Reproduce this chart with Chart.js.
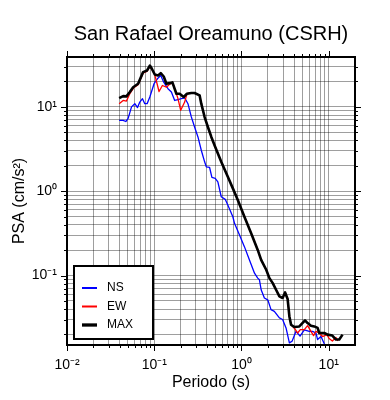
<!DOCTYPE html>
<html>
<head>
<meta charset="utf-8">
<script src="https://cdn.jsdelivr.net/npm/chart.js@4/dist/chart.umd.min.js"></script>
<style>
  html, body { margin: 0; padding: 0; background: #fff; }
</style>
</head>
<body>
<canvas id="psaChart" width="390" height="400"></canvas>
<script>
// periods (s) and PSA (cm/s2)
var nsPeriods = [0.0396, 0.044, 0.0472, 0.0502, 0.0549, 0.0599, 0.0643, 0.0683, 0.0733, 0.0779, 0.0828, 0.089, 0.0995, 0.1088, 0.1187, 0.1284, 0.1437, 0.1572, 0.1715, 0.187, 0.2046, 0.2233, 0.2434, 0.266, 0.29, 0.317, 0.346, 0.378, 0.395, 0.431, 0.458, 0.5, 0.536, 0.586, 0.651, 0.697, 0.796, 0.832, 0.949, 1.08, 1.234, 1.41, 1.535, 1.606, 1.68, 1.83, 2.0, 2.18, 2.38, 2.72, 2.96, 3.24, 3.54, 3.80, 4.22, 4.69, 5.25, 5.98, 6.53, 7.14, 7.45, 8.15, 8.89, 9.5];
var nsPSA = [6.9, 6.9, 6.7, 7.3, 10.0, 10.9, 9.8, 11.4, 12.5, 10.9, 10.9, 13.1, 18.8, 21.5, 23.6, 19.6, 16.4, 15.0, 11.9, 12.2, 12.5, 12.8, 10.9, 7.6, 5.77, 4.40, 3.06, 2.23, 1.94, 1.91, 1.46, 1.42, 1.29, 0.859, 0.80, 0.685, 0.498, 0.416, 0.303, 0.220, 0.153, 0.1066, 0.0931, 0.089, 0.0678, 0.0541, 0.0515, 0.0394, 0.0375, 0.0314, 0.0301, 0.0239, 0.0159, 0.0166, 0.0218, 0.0191, 0.0226, 0.0218, 0.0218, 0.0208, 0.0174, 0.0189, 0.0155, 0.0135];

var ewPeriods = [0.0396, 0.044, 0.048, 0.0525, 0.0583, 0.0653, 0.0745, 0.0828, 0.089, 0.0936, 0.1014, 0.1135, 0.124, 0.1379, 0.1476, 0.1615, 0.1794, 0.187, 0.201, 0.2233, 0.237, 0.266, 0.29, 0.331, 0.346, 0.378, 0.412, 0.451, 0.5, 0.586, 0.697, 0.796, 0.907, 1.08, 1.29, 1.535, 1.68, 1.92, 2.09, 2.28, 2.49, 2.72, 2.96, 3.16, 3.38, 3.54, 3.70, 4.11, 4.40, 4.72, 5.25, 5.72, 6.26, 6.70, 7.14, 7.79, 8.49, 9.53, 10.1, 11.0, 12.1, 12.7];
var ewPSA = [10.9, 11.9, 11.7, 14.3, 16.9, 18.3, 25.0, 26.5, 30.0, 28.0, 24.0, 15.2, 17.9, 17.1, 18.3, 19.5, 14.3, 12.5, 9.1, 11.4, 14.3, 14.6, 14.6, 13.7, 10.9, 7.57, 5.77, 4.40, 3.35, 2.23, 1.48, 1.08, 0.785, 0.498, 0.317, 0.201, 0.153, 0.117, 0.0931, 0.0813, 0.0678, 0.0565, 0.0541, 0.063, 0.0526, 0.0327, 0.0261, 0.0232, 0.0208, 0.0228, 0.0228, 0.0254, 0.0218, 0.0194, 0.0218, 0.0208, 0.0189, 0.0199, 0.0179, 0.0167, 0.0184, 0.0167];

var maxPeriods = [0.0396, 0.044, 0.048, 0.0525, 0.0573, 0.0653, 0.0745, 0.0828, 0.089, 0.0936, 0.1014, 0.1105, 0.1187, 0.1284, 0.1379, 0.1504, 0.1615, 0.1794, 0.1956, 0.2175, 0.237, 0.266, 0.29, 0.331, 0.346, 0.378, 0.412, 0.451, 0.5, 0.586, 0.697, 0.796, 0.907, 1.08, 1.29, 1.535, 1.68, 1.92, 2.09, 2.28, 2.49, 2.72, 2.96, 3.16, 3.38, 3.54, 3.70, 4.03, 4.60, 5.35, 5.72, 6.26, 6.83, 7.45, 7.79, 8.89, 9.69, 11.0, 12.1, 13.2, 14.4];
var maxPSA = [12.7, 13.4, 13.3, 15.0, 17.1, 18.8, 25.8, 27.0, 30.9, 28.5, 24.2, 23.6, 25.1, 22.9, 18.8, 19.1, 19.5, 14.3, 14.3, 13.1, 14.3, 14.6, 14.6, 13.7, 10.9, 7.57, 5.77, 4.40, 3.35, 2.23, 1.48, 1.08, 0.785, 0.498, 0.317, 0.201, 0.153, 0.117, 0.0931, 0.0813, 0.0678, 0.0565, 0.0541, 0.063, 0.0526, 0.0327, 0.0261, 0.0245, 0.0249, 0.0294, 0.0273, 0.0254, 0.0249, 0.0239, 0.0208, 0.0208, 0.0199, 0.0194, 0.0174, 0.0174, 0.0199];

// decade labels, lowest exponent first
var xTickLabels = ['10\u207B\u00B2', '10\u207B\u00B9', '10\u2070', '10\u00B9'];
var xFirstExp = -2;
var yTickLabels = ['10\u207B\u00B2', '10\u207B\u00B9', '10\u2070', '10\u00B9'];
var yFirstExp = -2;

var FONT = "'Liberation Sans', Arial, Helvetica, sans-serif";

function toPoints(xs, ys) {
    return xs.map(function (x, i) { return {x: x, y: ys[i]}; });
}

function isDecade(v) {
    var l = Math.log10(v);
    return Math.abs(l - Math.round(l)) < 1e-9;
}

// gridline values 1..9 x 10^n inside the axis range
function logTicks(min, max) {
    var out = [];
    for (var e = Math.floor(Math.log10(min)); e <= Math.ceil(Math.log10(max)); e++) {
        for (var m = 1; m < 10; m++) {
            var v = Number((m * Math.pow(10, e)).toPrecision(6));
            if (v >= min * 0.9999 && v < max * 0.9999) out.push({value: v, major: isDecade(v)});
        }
    }
    return out;
}

// frame, outside tick marks on all four sides, and the boxed legend
var framePlugin = {
    id: 'frame',
    afterDatasetsDraw: function (chart) {
        var ctx = chart.ctx, a = chart.chartArea;
        var xs = chart.scales.x, ys = chart.scales.y;
        ctx.save();
        ctx.strokeStyle = '#000';
        ctx.lineWidth = 1;
        ctx.beginPath();
        xs.ticks.forEach(function (t) {
            var px = Math.round(xs.getPixelForValue(t.value)) + 0.5;
            var len = t.major ? 6 : 3;
            ctx.moveTo(px, a.top); ctx.lineTo(px, a.top - len);
            ctx.moveTo(px, a.bottom); ctx.lineTo(px, a.bottom + len);
        });
        ys.ticks.forEach(function (t) {
            var py = Math.round(ys.getPixelForValue(t.value)) + 0.5;
            var len = t.major ? 6 : 3;
            ctx.moveTo(a.left, py); ctx.lineTo(a.left - len, py);
            ctx.moveTo(a.right, py); ctx.lineTo(a.right + len, py);
        });
        ctx.stroke();
        ctx.lineWidth = 2;
        ctx.strokeRect(a.left, a.top, a.right - a.left, a.bottom - a.top);

        // legend box in lower left corner
        var bx = a.left + 7, by = a.bottom - 79, bw = 79, bh = 73;
        ctx.fillStyle = '#fff';
        ctx.fillRect(bx, by, bw, bh);
        ctx.strokeRect(bx, by, bw, bh);
        ctx.font = '12px ' + FONT;
        ctx.textBaseline = 'middle';
        ctx.textAlign = 'left';
        chart.data.datasets.forEach(function (ds, i) {
            var ly = by + 22 + i * 18.5;
            ctx.strokeStyle = ds.borderColor;
            ctx.lineWidth = ds.borderWidth + 0.7;
            ctx.beginPath();
            ctx.moveTo(bx + 8, ly);
            ctx.lineTo(bx + 23, ly);
            ctx.stroke();
            ctx.fillStyle = '#000';
            ctx.fillText(ds.label, bx + 33, ly);
        });
        ctx.restore();
    }
};

var ctx = document.getElementById('psaChart').getContext('2d');
var psaChart = new Chart(ctx, {
    type: 'line',
    data: {
        datasets: [{
            label: 'NS',
            data: toPoints(nsPeriods, nsPSA),
            borderColor: '#0000ff',
            borderWidth: 1.3,
            order: 2
        }, {
            label: 'EW',
            data: toPoints(ewPeriods, ewPSA),
            borderColor: '#ff0000',
            borderWidth: 1.3,
            order: 1
        }, {
            label: 'MAX',
            data: toPoints(maxPeriods, maxPSA),
            borderColor: '#000000',
            borderWidth: 2.6,
            order: 0 // drawn last, on top
        }]
    },
    options: {
        responsive: false,
        animation: false,
        layout: { padding: { left: 0, right: 35, top: 0, bottom: 0 } },
        elements: {
            point: { radius: 0 },
            line: { tension: 0, fill: false, borderJoinStyle: 'round' }
        },
        plugins: {
            legend: { display: false },
            tooltip: { enabled: false },
            title: {
                display: true,
                fullSize: false,
                text: 'San Rafael Oreamuno (CSRH)',
                color: '#000',
                font: { family: FONT, size: 20, weight: 'normal' },
                padding: { top: 22, bottom: 11 }
            }
        },
        scales: {
            x: {
                type: 'logarithmic',
                min: 0.01,
                max: 20,
                afterBuildTicks: function (scale) { scale.ticks = logTicks(0.01, 20); },
                afterFit: function (scale) { scale.height = 55; },
                border: { display: false },
                grid: { color: 'rgba(0,0,0,0.38)', lineWidth: 1, drawTicks: false },
                ticks: {
                    autoSkip: false,
                    maxRotation: 0,
                    padding: 12,
                    color: '#000',
                    font: { family: FONT, size: 14 },
                    callback: function (value) {
                        if (!isDecade(value)) return '';
                        return xTickLabels[Math.round(Math.log10(value)) - xFirstExp];
                    }
                },
                title: {
                    display: true,
                    text: 'Periodo (s)',
                    color: '#000',
                    font: { family: FONT, size: 16 },
                    padding: { top: 0, bottom: 8 }
                }
            },
            y: {
                type: 'logarithmic',
                min: 0.015,
                max: 39,
                afterBuildTicks: function (scale) { scale.ticks = logTicks(0.015, 39); },
                afterFit: function (scale) { scale.width = 67; },
                border: { display: false },
                grid: { color: 'rgba(0,0,0,0.38)', lineWidth: 1, drawTicks: false },
                ticks: {
                    autoSkip: false,
                    padding: 10,
                    color: '#000',
                    font: { family: FONT, size: 14 },
                    callback: function (value) {
                        if (!isDecade(value)) return '';
                        return yTickLabels[Math.round(Math.log10(value)) - yFirstExp];
                    }
                },
                title: {
                    display: true,
                    text: 'PSA (cm/s\u00B2)',
                    color: '#000',
                    font: { family: FONT, size: 16 },
                    padding: { top: 10, bottom: 0 }
                }
            }
        }
    },
    plugins: [framePlugin]
});
</script>
</body>
</html>
